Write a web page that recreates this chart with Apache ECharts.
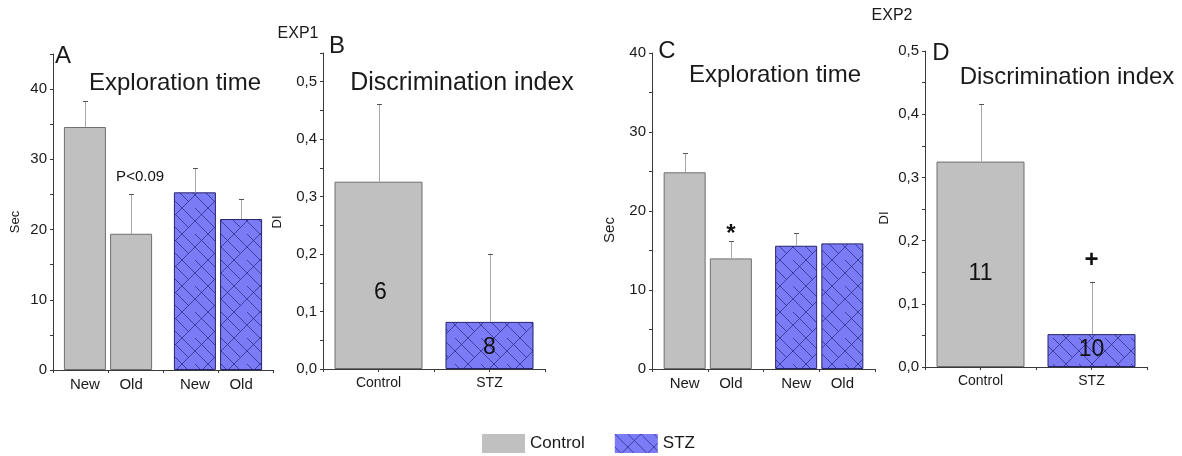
<!DOCTYPE html>
<html>
<head>
<meta charset="utf-8">
<script src="https://cdn.jsdelivr.net/npm/echarts@6/dist/echarts.min.js"></script>
<style>
html,body{margin:0;padding:0;background:#fff;}
#chart{width:1182px;height:456px;}
</style>
</head>
<body>
<div id="chart"></div>
<script>
// ---------------- data ----------------
const barNames = ['New', 'Old'];
const groupNames = ['Control', 'STZ'];

// EXP1 – A: exploration time (s)
const aControl = [34.6, 19.4];
const aControlErr = [38.3, 25.0];
const aSTZ = [25.3, 21.5];
const aSTZErr = [28.7, 24.4];

// EXP1 – B: discrimination index
const bDI = [0.326, 0.082];
const bDIErr = [0.461, 0.201];
const bN = ['6', '8'];

// EXP2 – C: exploration time (s)
const cControl = [24.9, 14.0];
const cControlErr = [27.3, 16.2];
const cSTZ = [15.6, 15.9];
const cSTZErr = [17.2, null];

// EXP2 – D: discrimination index
const dDI = [0.325, 0.052];
const dDIErr = [0.416, 0.135];
const dN = ['11', '10'];

// axis tick values
const secLabelsA = [0, 10, 20, 30, 40];
const secTicksA = [0, 5, 10, 15, 20, 25, 30, 35, 40, 45];
const secLabelsC = [0, 10, 20, 30, 40];
const secTicksC = [0, 5, 10, 15, 20, 25, 30, 35, 40];
const diLabels = [0, 0.1, 0.2, 0.3, 0.4, 0.5];
const diTicksB = [0, 0.05, 0.1, 0.15, 0.2, 0.25, 0.3, 0.35, 0.4, 0.45, 0.5, 0.55];
const diTicksD = [0, 0.05, 0.1, 0.15, 0.2, 0.25, 0.3, 0.35, 0.4, 0.45, 0.5];

// annotations: group index, bar index inside group, y value, text
const annA = [{ group: 0, bar: 1, y: 27.5, text: 'P<0.09' }];
const annB = [{ group: 0, bar: 0, y: 0.133, text: bN[0] }, { group: 1, bar: 0, y: 0.037, text: bN[1] }];
const annC = [{ group: 0, bar: 1, y: 17.1, text: '*' }];
const annD = [{ group: 0, bar: 0, y: 0.148, text: dN[0] }, { group: 1, bar: 0, y: 0.027, text: dN[1] }, { group: 1, bar: 0, y: 0.169, text: '+' }];

// ---------------- styling ----------------
const FONT = "'Liberation Sans', Arial, sans-serif";
const TXT = '#1a1a1a';
const AXIS = '#3a3a3a';
const CONTROL_FILL = '#c0c0c0';
const CONTROL_BORDER = '#6e6e6e';
const STZ_BORDER = '#23236e';

function makeHatch() {
  const s = 26;
  const c = document.createElement('canvas');
  c.width = s; c.height = s;
  const g = c.getContext('2d');
  g.fillStyle = '#7b7cf5';
  g.fillRect(0, 0, s, s);
  g.strokeStyle = 'rgba(35,35,125,0.7)';
  g.lineWidth = 1;
  g.beginPath();
  for (let k = -1; k <= 1; k++) {
    g.moveTo(k * s, 0); g.lineTo(k * s + s, s);
    g.moveTo(k * s + s, 0); g.lineTo(k * s, s);
  }
  g.moveTo(s / 2, 0); g.lineTo(s, s / 2);
  g.moveTo(0, s / 2); g.lineTo(s / 4, s * 3 / 4);
  g.stroke();
  return c;
}
const hatch = { image: makeHatch(), repeat: 'repeat' };

const grids = [
  { left: 53, top: 54, width: 220, height: 316 },
  { left: 323, top: 53, width: 222, height: 316 },
  { left: 652, top: 53, width: 223, height: 316 },
  { left: 925, top: 51, width: 222, height: 316 }
];

const panelKinds = ['pair', 'single', 'pair', 'single'];
const barWidths = [42, 88, 42, 88];

const xAxes = [];
const yAxes = [];
grids.forEach(function (g, p) {
  xAxes.push({
    gridIndex: p, type: 'category', position: 'bottom', data: groupNames, boundaryGap: true,
    axisLine: { show: true, lineStyle: { color: AXIS, width: 1 } },
    axisTick: { show: false },
    axisLabel: { show: panelKinds[p] === 'single', color: TXT, fontSize: 14, fontFamily: FONT, margin: 7 },
    splitLine: { show: false }
  });
  xAxes.push({
    gridIndex: p, type: 'category', position: 'bottom', data: ['', '', '', ''], boundaryGap: true,
    axisLine: { show: false },
    axisTick: { show: true, length: 3, lineStyle: { color: AXIS } },
    axisLabel: { show: false },
    splitLine: { show: false }
  });
});

function yAxisFor(p, max, interval, labels, ticks, comma) {
  return {
    gridIndex: p, type: 'value', min: 0, max: max, interval: interval,
    axisLine: { show: true, lineStyle: { color: AXIS, width: 1 } },
    axisTick: { show: true, length: 3, customValues: ticks, lineStyle: { color: AXIS } },
    axisLabel: {
      show: true, customValues: labels, color: TXT, fontSize: 15, fontFamily: FONT, margin: 6,
      formatter: function (v) { return comma ? v.toFixed(1).replace('.', ',') : String(v); }
    },
    splitLine: { show: false }
  };
}
yAxes.push(yAxisFor(0, 45, 5, secLabelsA, secTicksA, false));
yAxes.push(yAxisFor(1, 0.55, 0.05, diLabels, diTicksB, true));
yAxes.push(yAxisFor(2, 40, 5, secLabelsC, secTicksC, false));
yAxes.push(yAxisFor(3, 0.5, 0.05, diLabels, diTicksD, true));

const controlStyle = { color: CONTROL_FILL, borderColor: CONTROL_BORDER, borderWidth: 1 };
const stzStyle = { color: hatch, borderColor: STZ_BORDER, borderWidth: 1 };

const series = [];

function pairPanel(p, ctrl, stz) {
  const stacks = ['new' + p, 'old' + p];
  [0, 1].forEach(function (b) {
    series.push({
      type: 'bar', name: 'Control', xAxisIndex: 2 * p, yAxisIndex: p, stack: stacks[b],
      barWidth: barWidths[p], barGap: '10%', itemStyle: controlStyle,
      label: { show: true, position: 'bottom', distance: 7, formatter: barNames[b], color: TXT, fontSize: 15, fontFamily: FONT },
      data: [ctrl[b], '-']
    });
  });
  [0, 1].forEach(function (b) {
    series.push({
      type: 'bar', name: 'STZ', xAxisIndex: 2 * p, yAxisIndex: p, stack: stacks[b],
      barWidth: barWidths[p], barGap: '10%', itemStyle: stzStyle,
      label: { show: true, position: 'bottom', distance: 7, formatter: barNames[b], color: TXT, fontSize: 15, fontFamily: FONT },
      data: ['-', stz[b]]
    });
  });
}
function singlePanel(p, vals) {
  series.push({
    type: 'bar', name: 'Control', xAxisIndex: 2 * p, yAxisIndex: p, stack: 'di' + p,
    barWidth: barWidths[p], itemStyle: controlStyle, data: [vals[0], '-']
  });
  series.push({
    type: 'bar', name: 'STZ', xAxisIndex: 2 * p, yAxisIndex: p, stack: 'di' + p,
    barWidth: barWidths[p], itemStyle: stzStyle, data: ['-', vals[1]]
  });
}

function errorSeries(p, items) {
  const count = panelKinds[p] === 'pair' ? 2 : 1;
  series.push({
    type: 'custom', xAxisIndex: 2 * p, yAxisIndex: p, z: 5, clip: false, silent: true,
    encode: { x: 0, y: 2 },
    data: items.filter(function (d) { return d[3] != null; }),
    renderItem: function (params, api) {
      const lay = api.barLayout({ count: count, barWidth: barWidths[p], barGap: '10%' });
      const g = api.value(0), b = api.value(1);
      const p0 = api.coord([g, api.value(2)]);
      const p1 = api.coord([g, api.value(3)]);
      const x = Math.round(p0[0] + lay[b].offsetCenter) + 0.5;
      return {
        type: 'group', children: [
          { type: 'line', shape: { x1: x, y1: p0[1], x2: x, y2: p1[1] }, style: { stroke: '#a8a8a8', lineWidth: 1 } },
          { type: 'line', shape: { x1: x - 2.5, y1: Math.round(p1[1]) + 0.5, x2: x + 2.5, y2: Math.round(p1[1]) + 0.5 }, style: { stroke: '#555', lineWidth: 1 } }
        ]
      };
    }
  });
}

function annotationSeries(p, anns, nudges) {
  const count = panelKinds[p] === 'pair' ? 2 : 1;
  series.push({
    type: 'custom', xAxisIndex: 2 * p, yAxisIndex: p, z: 10, clip: false, silent: true,
    encode: { x: 0, y: 2 },
    data: anns.map(function (a) { return [a.group, a.bar, a.y]; }),
    renderItem: function (params, api) {
      const a = anns[params.dataIndex];
      const lay = api.barLayout({ count: count, barWidth: barWidths[p], barGap: '10%' });
      const pt = api.coord([api.value(0), api.value(2)]);
      const st = annotationStyle(a.text);
      const dx = (nudges && nudges[params.dataIndex]) || 0;
      return {
        type: 'text', x: pt[0] + lay[api.value(1)].offsetCenter + dx, y: pt[1],
        style: { text: a.text, fill: '#111', fontSize: st.size, fontWeight: st.weight, fontFamily: FONT, align: 'center', verticalAlign: 'middle' }
      };
    }
  });
}
function annotationStyle(t) {
  if (t === '*' || t === '+') return { size: 24, weight: 'bold' };
  if (/^\d+$/.test(t)) return { size: 23, weight: 'normal' };
  return { size: 15, weight: 'normal' };
}

// Panel A
pairPanel(0, aControl, aSTZ);
errorSeries(0, [[0, 0, aControl[0], aControlErr[0]], [0, 1, aControl[1], aControlErr[1]], [1, 0, aSTZ[0], aSTZErr[0]], [1, 1, aSTZ[1], aSTZErr[1]]]);
annotationSeries(0, annA, [9]);
// Panel B
singlePanel(1, bDI);
errorSeries(1, [[0, 0, bDI[0], bDIErr[0]], [1, 0, bDI[1], bDIErr[1]]]);
annotationSeries(1, annB, [2]);
// Panel C
pairPanel(2, cControl, cSTZ);
errorSeries(2, [[0, 0, cControl[0], cControlErr[0]], [0, 1, cControl[1], cControlErr[1]], [1, 0, cSTZ[0], cSTZErr[0]], [1, 1, cSTZ[1], cSTZErr[1]]]);
annotationSeries(2, annC, null);
// Panel D
singlePanel(3, dDI);
errorSeries(3, [[0, 0, dDI[0], dDIErr[0]], [1, 0, dDI[1], dDIErr[1]]]);
annotationSeries(3, annD, null);

function txt(x, y, text, size, opts) {
  opts = opts || {};
  return {
    type: 'text', x: x, y: y, rotation: opts.rot || 0, silent: true,
    style: { text: text, fill: TXT, fontSize: size, fontFamily: FONT, align: 'center', verticalAlign: 'middle' }
  };
}

const graphics = [
  txt(298, 34, 'EXP1', 16),
  txt(892, 16, 'EXP2', 16),
  txt(63, 56, 'A', 24), txt(337, 46, 'B', 24), txt(667, 51, 'C', 24), txt(941, 53, 'D', 24),
  txt(175, 83, 'Exploration time', 24),
  txt(462, 83, 'Discrimination index', 25),
  txt(775, 75, 'Exploration time', 24),
  txt(1067, 77, 'Discrimination index', 24),
  txt(15, 222, 'Sec', 13, { rot: Math.PI / 2 }),
  txt(277, 222, 'DI', 13, { rot: Math.PI / 2 }),
  txt(610, 230, 'Sec', 15, { rot: Math.PI / 2 }),
  txt(884, 218, 'DI', 13, { rot: Math.PI / 2 })
];

const chart = echarts.init(document.getElementById('chart'), null, { renderer: 'canvas' });
chart.setOption({
  animation: false,
  backgroundColor: '#fff',
  textStyle: { fontFamily: FONT },
  grid: grids,
  xAxis: xAxes,
  yAxis: yAxes,
  legend: {
    data: ['Control', 'STZ'], left: 482, top: 434, padding: 0, itemWidth: 43, itemHeight: 19, itemGap: 30,
    icon: 'rect', selectedMode: false,
    itemStyle: { borderWidth: 0 },
    textStyle: { color: TXT, fontSize: 17, fontFamily: FONT }
  },
  graphic: graphics,
  series: series
});
</script>
</body>
</html>
